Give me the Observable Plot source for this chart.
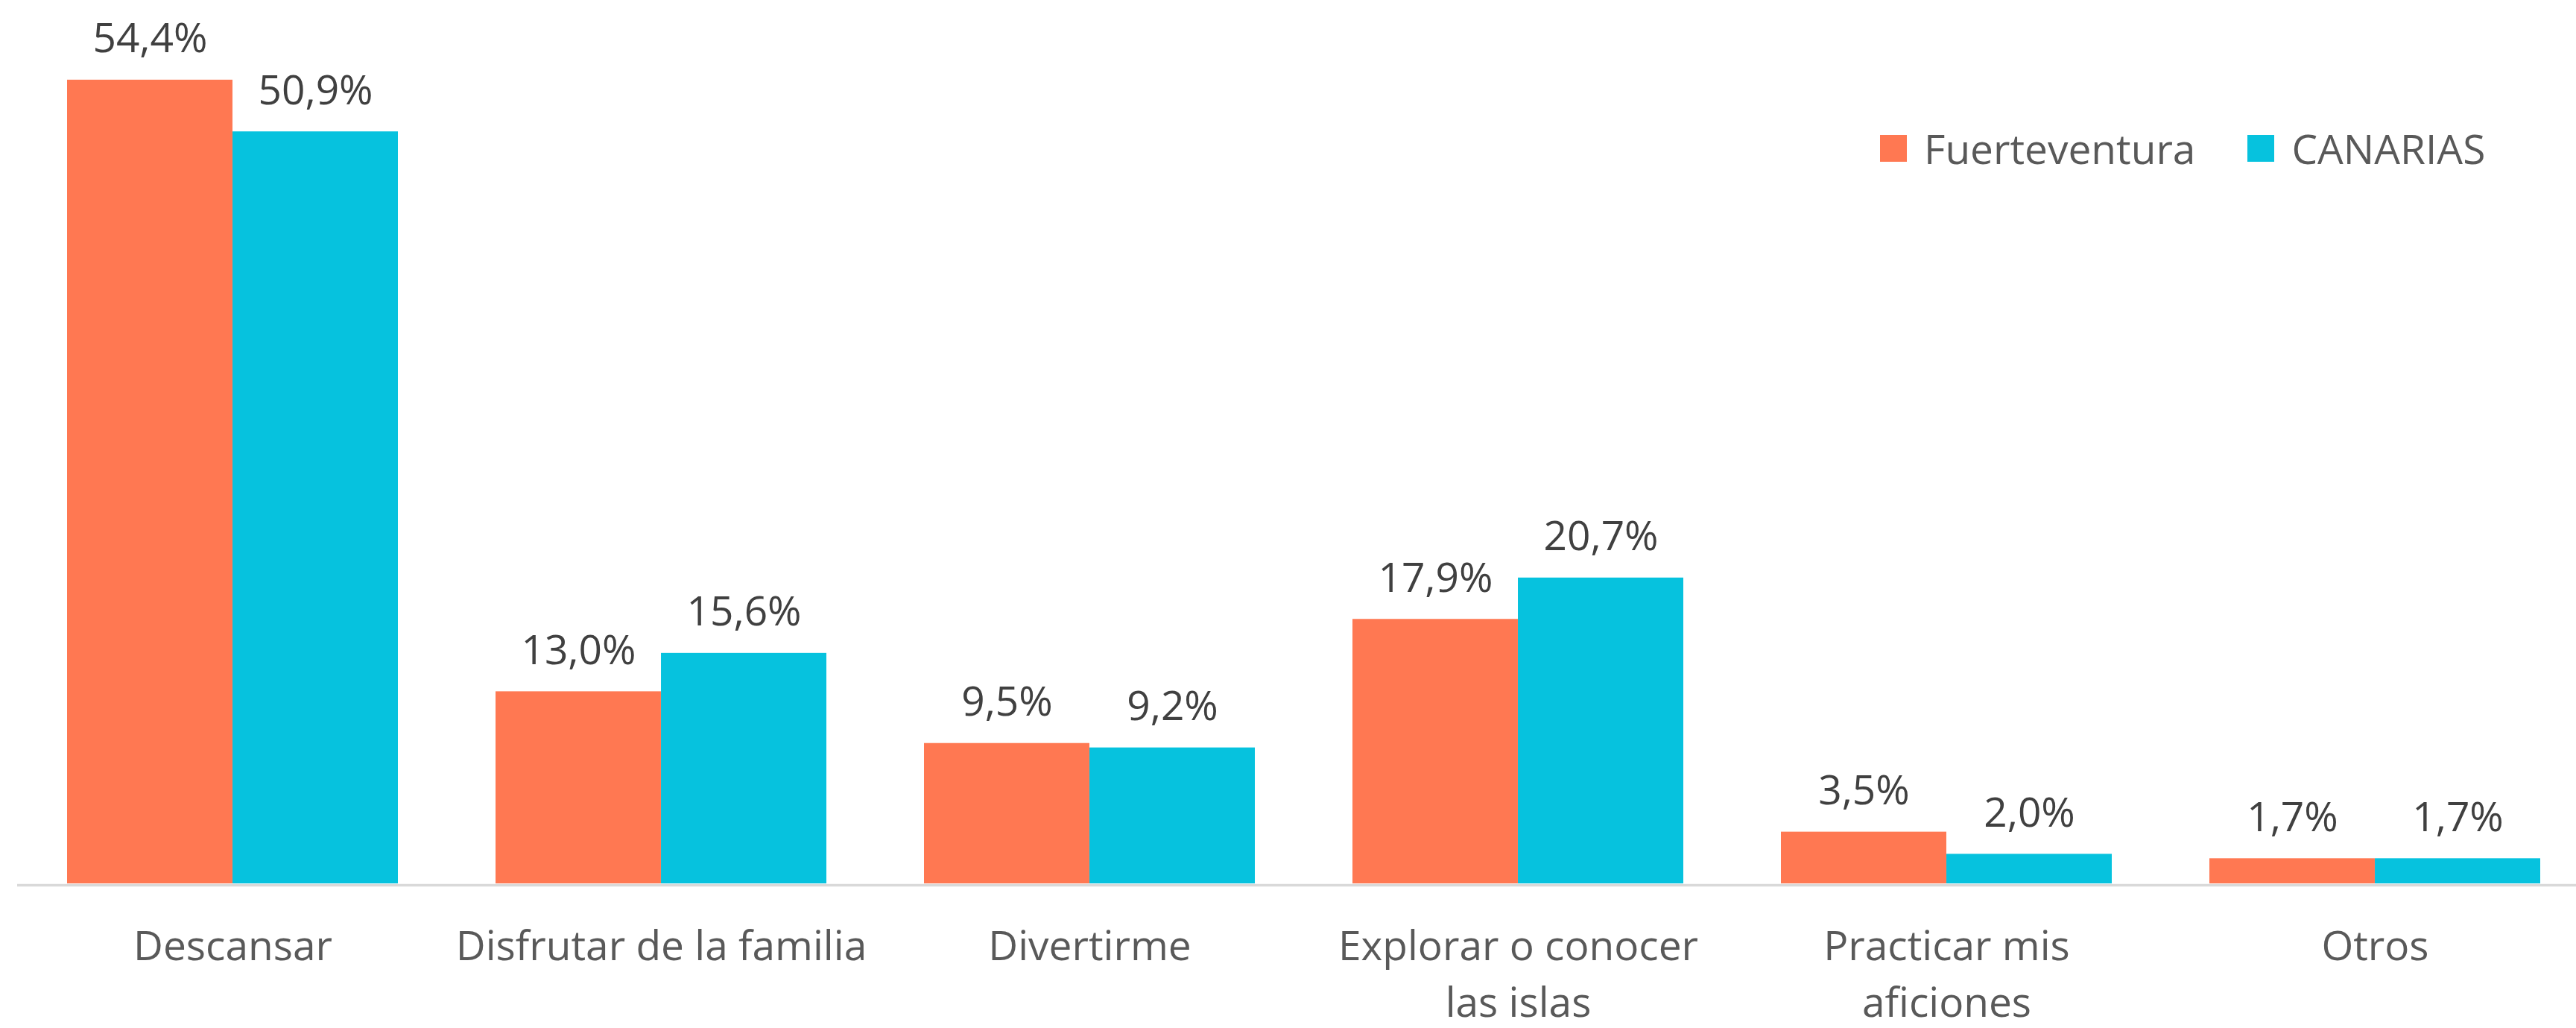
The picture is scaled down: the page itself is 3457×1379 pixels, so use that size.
<!DOCTYPE html>
<html>
<head>
<meta charset="utf-8">
<script src="https://cdn.jsdelivr.net/npm/d3@7"></script>
<script src="https://cdn.jsdelivr.net/npm/@observablehq/plot@0.6"></script>
<style>
  html, body { margin: 0; padding: 0; background: #ffffff; }
  #wrap { position: relative; width: 3457px; height: 1379px; font-family: "Open Sans", sans-serif; }
  #legend { position: absolute; left: 2523px; top: 171px; display: flex; align-items: center; font-size: 55px; color: #595959; line-height: 1; }
  #legend .item { display: flex; align-items: center; margin-right: 70px; }
  #legend .sw { width: 36px; height: 36px; margin-right: 23px; }
</style>
</head>
<body>
<div id="wrap"><div id="legend"></div></div>
<script>
const categories = ["Descansar", "Disfrutar de la familia", "Divertirme", "Explorar o conocer las islas", "Practicar mis aficiones", "Otros"];
const tickLabels = ["Descansar", "Disfrutar de la familia", "Divertirme", "Explorar o conocer\nlas islas", "Practicar mis\naficiones", "Otros"];
const fuerteventura = [54.4, 13.0, 9.5, 17.9, 3.5, 1.7];
const canarias = [50.9, 15.6, 9.2, 20.7, 2.0, 1.7];
const seriesNames = ["Fuerteventura", "CANARIAS"];
const seriesColors = ["#FF7852", "#06C2DE"];

const rows = categories.map((c, i) => ({cat: c, label: tickLabels[i], f: fuerteventura[i], c: canarias[i]}));
const fmt = v => d3.format(".1f")(v).replace(".", ",") + "%";

// layout of the band scale
const xRange = [23.4, 3474.6];
const padInner = 0.228, padOuter = 0.114;
const step = (xRange[1] - xRange[0]) / (categories.length - padInner + 2 * padOuter);
const bw = step * (1 - padInner);
const half = bw / 2;

const fs = 55;
const chart = Plot.plot({
  width: 3457,
  height: 1379,
  marginLeft: 23,
  marginRight: 0,
  marginTop: 95,
  marginBottom: 194,
  style: {fontFamily: "Open Sans, sans-serif", background: "#ffffff", overflow: "visible"},
  x: {domain: categories, range: xRange, paddingInner: padInner, paddingOuter: padOuter, axis: null},
  y: {domain: [0, 55], axis: null},
  marks: [
    Plot.ruleY([0], {stroke: "#d9d9d9", strokeWidth: 3.5, dy: 2}),
    Plot.barY(rows, {x: "cat", y: "f", fill: seriesColors[0], insetLeft: 0, insetRight: half}),
    Plot.barY(rows, {x: "cat", y: "c", fill: seriesColors[1], insetLeft: half, insetRight: 0}),
    Plot.text(rows, {x: "cat", y: "f", text: d => fmt(d.f), dx: -half / 2, dy: -37, lineAnchor: "bottom", fontSize: fs, fill: "#404040"}),
    Plot.text(rows, {x: "cat", y: "c", text: d => fmt(d.c), dx: half / 2, dy: -37, lineAnchor: "bottom", fontSize: fs, fill: "#404040"}),
    Plot.text(rows, {x: "cat", y: () => 0, text: "label", lineAnchor: "top", lineHeight: 1.382, dy: 49, fontSize: fs, fill: "#595959"})
  ]
});
document.getElementById("wrap").appendChild(chart);

const legend = document.getElementById("legend");
seriesNames.forEach((name, i) => {
  const item = document.createElement("div");
  item.className = "item";
  const sw = document.createElement("div");
  sw.className = "sw";
  sw.style.background = seriesColors[i];
  const t = document.createElement("span");
  t.textContent = name;
  item.appendChild(sw);
  item.appendChild(t);
  legend.appendChild(item);
});
</script>
</body>
</html>
